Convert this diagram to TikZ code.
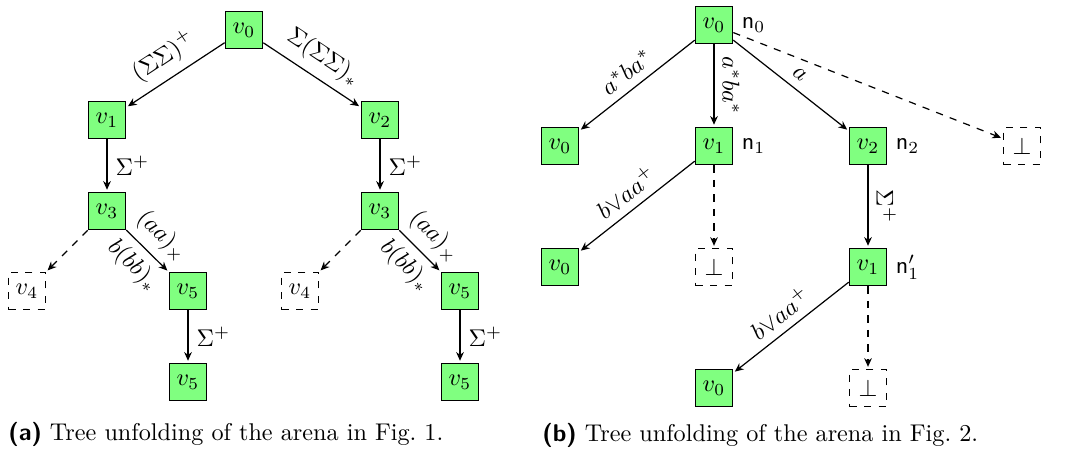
\documentclass[tikz,border=0pt]{standalone}
\usetikzlibrary{arrows.meta}
\definecolor{boxgreen}{RGB}{128,255,128}
\begin{document}
\begin{tikzpicture}[x=0.413pt,y=-0.413pt,
  vbox/.style={draw=black, line width=0.65pt, fill=boxgreen, minimum size=15.3pt, inner sep=0pt},
  dbox/.style={draw=black, dashed, line width=0.6pt, minimum size=15.3pt, inner sep=0pt},
  arr/.style={-{Stealth[length=3.6pt,width=3.2pt]}, line width=0.5pt, shorten >=0.8pt},
  darr/.style={arr, dashed},
  nm/.style={anchor=west}
]
\useasboundingbox (0,0) rectangle (1084,453);
% (a)
\node[vbox] (A0) at (244,30) {$v_0$};
\node[vbox] (A1) at (107,120) {$v_1$};
\node[vbox] (A2) at (380,120) {$v_2$};
\node[vbox] (A3) at (107,211) {$v_3$};
\node[dbox] (A4) at (27,291) {$v_4$};
\node[vbox] (A5) at (188,291) {$v_5$};
\node[vbox] (A6) at (188,382) {$v_5$};
\node[vbox] (B3) at (380,211) {$v_3$};
\node[dbox] (B4) at (300,291) {$v_4$};
\node[vbox] (B5) at (460,291) {$v_5$};
\node[vbox] (B6) at (460,382) {$v_5$};
\draw[arr] (A0) -- node[midway,above,sloped] {$(\Sigma\Sigma)^+$} (A1);
\draw[arr] (A0) -- node[midway,above,sloped] {$\Sigma(\Sigma\Sigma)_*$} (A2);
\draw[arr] (A1) -- node[midway,right] {$\Sigma^+$} (A3);
\draw[arr] (A2) -- node[midway,right] {$\Sigma^+$} (B3);
\draw[darr] (A3) -- (A4);
\draw[arr] (A3) -- node[midway,above,sloped] {$(aa)_\times$} node[midway,below,sloped] {$b(bb)_*$} (A5);
\draw[arr] (A5) -- node[midway,right] {$\Sigma^+$} (A6);
\draw[darr] (B3) -- (B4);
\draw[arr] (B3) -- node[midway,above,sloped] {$(aa)_\times$} node[midway,below,sloped] {$b(bb)_*$} (B5);
\draw[arr] (B5) -- node[midway,right] {$\Sigma^+$} (B6);
\node[anchor=base west, inner sep=0pt] (capA) at (8,440) {\textsf{\textbf{(a)}} Tree unfolding of the arena in Fig.~1.};
% (b)
\node[vbox] (C0) at (714,25) {$v_0$};
\node[vbox] (C1) at (560,146) {$v_0$};
\node[vbox] (C2) at (714,146) {$v_1$};
\node[vbox] (C3) at (868,146) {$v_2$};
\node[dbox] (C4) at (1022,146) {$\bot$};
\node[vbox] (C5) at (560,267) {$v_0$};
\node[dbox] (C6) at (714,267) {$\bot$};
\node[vbox] (C7) at (868,267) {$v_1$};
\node[vbox] (C8) at (714,388) {$v_0$};
\node[dbox] (C9) at (868,388) {$\bot$};
\node[nm] (N0) at (C0.east) {$\mathsf{n}_0$};
\node[nm] (N1) at (C2.east) {$\mathsf{n}_1$};
\node[nm] (N2) at (C3.east) {$\mathsf{n}_2$};
\node[nm] (N3) at (C7.east) {$\mathsf{n}'_1$};
\draw[arr] (C0) -- node[midway,above,sloped] {$a^*ba^*$} (C1);
\draw[arr] (C0) -- node[midway,above,sloped] {$a^*ba^*$} (C2);
\draw[arr] (C0) -- node[midway,above,sloped] {$a$} (C3);
\draw[darr] (C0) -- (C4);
\draw[arr] (C2) -- node[midway,above,sloped] {$b{\vee}aa^+$} (C5);
\draw[darr] (C2) -- (C6);
\draw[arr] (C3) -- node[midway,above,sloped] {$\Sigma^+$} (C7);
\draw[arr] (C7) -- node[midway,above,sloped] {$b{\vee}aa^+$} (C8);
\draw[darr] (C7) -- (C9);
\node[anchor=base west, inner sep=0pt] (capB) at (542,441) {\textsf{\textbf{(b)}} Tree unfolding of the arena in Fig.~2.};
\end{tikzpicture}
\end{document}
